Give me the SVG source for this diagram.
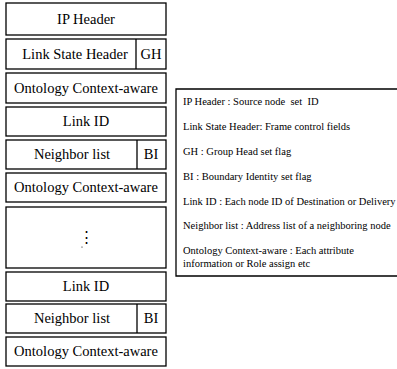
<svg xmlns="http://www.w3.org/2000/svg" width="397" height="369" viewBox="0 0 397 369">
<style>
.b{fill:#fff;stroke:#000;stroke-width:1.3}
.d{stroke:#000;stroke-width:1.3}
.t{font-family:"Liberation Serif","Times New Roman","DejaVu Serif",serif;font-size:14.5px;fill:#000;text-anchor:middle}
.l{font-family:"Liberation Serif","Times New Roman","DejaVu Serif",serif;font-size:10.5px;fill:#000}
</style>
<rect width="397" height="369" fill="#fff"/>
<g id="ip-header"><rect class="b" x="6" y="3" width="160" height="32"/><text class="t" x="86" y="24">IP Header</text></g>
<g id="link-state-header"><rect class="b" x="6" y="39" width="160" height="30"/><line class="d" x1="136" y1="39" x2="136" y2="69"/><text class="t" x="75" y="59">Link State Header</text><text class="t" x="151" y="59">GH</text></g>
<g id="ontology-1"><rect class="b" x="6" y="73" width="160" height="30"/><text class="t" x="86" y="93">Ontology Context-aware</text></g>
<g id="link-id-1"><rect class="b" x="6" y="107" width="160" height="29"/><text class="t" x="86" y="126">Link ID</text></g>
<g id="neighbor-list-1"><rect class="b" x="6" y="140" width="160" height="29"/><line class="d" x1="137" y1="140" x2="137" y2="169"/><text class="t" x="72" y="159">Neighbor list</text><text class="t" x="151" y="159">BI</text></g>
<g id="ontology-2"><rect class="b" x="6" y="173" width="160" height="29"/><text class="t" x="86" y="192">Ontology Context-aware</text></g>
<g id="ellipsis"><rect class="b" x="6" y="207" width="160" height="61"/><text class="t" x="86" y="242">⋮</text><circle cx="82" cy="247" r="0.6" fill="#000"/></g>
<g id="link-id-2"><rect class="b" x="6" y="272" width="160" height="29"/><text class="t" x="86" y="291">Link ID</text></g>
<g id="neighbor-list-2"><rect class="b" x="6" y="304" width="160" height="29"/><line class="d" x1="137" y1="304" x2="137" y2="333"/><text class="t" x="72" y="323">Neighbor list</text><text class="t" x="151" y="323">BI</text></g>
<g id="ontology-3"><rect class="b" x="6" y="337" width="160" height="29"/><text class="t" x="86" y="356">Ontology Context-aware</text></g>
<g id="legend">
<polyline points="397,89 176,89 176,276 397,276" fill="none" stroke="#000" stroke-width="1.3"/>
<text class="l" x="183" y="105" xml:space="preserve">IP Header : Source node  set  ID</text>
<text class="l" x="183" y="130">Link State Header: Frame control fields</text>
<text class="l" x="183" y="155">GH : Group Head set flag</text>
<text class="l" x="183" y="180">BI : Boundary Identity set flag</text>
<text class="l" x="183" y="205">Link ID : Each node ID of Destination or Delivery</text>
<text class="l" x="183" y="229">Neighbor list : Address list of a neighboring node</text>
<text class="l" x="183" y="254">Ontology Context-aware : Each attribute</text>
<text class="l" x="183" y="267">information or Role assign etc</text>
</g>
</svg>
